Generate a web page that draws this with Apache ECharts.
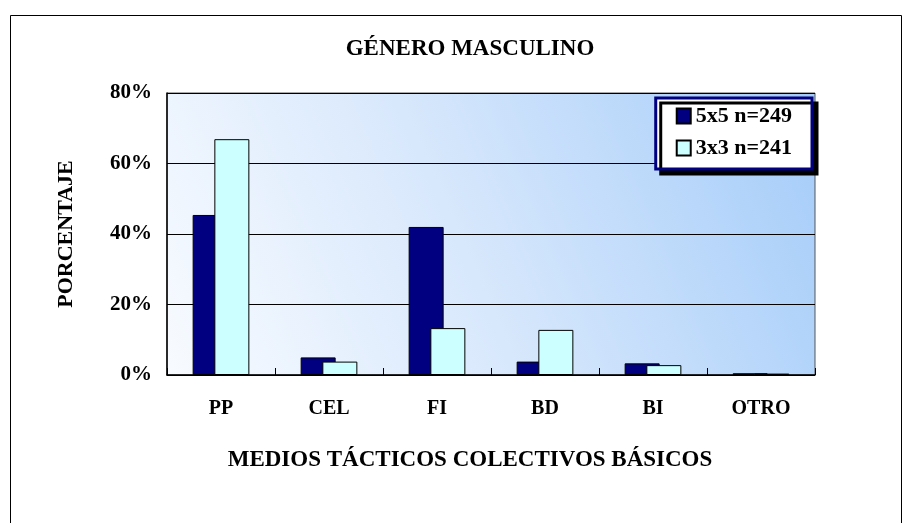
<!DOCTYPE html>
<html>
<head>
<meta charset="utf-8">
<script src="https://cdn.jsdelivr.net/npm/echarts@6/dist/echarts.min.js"></script>
<style>
    html, body { margin: 0; padding: 0; background: #fff; }
    #chart { width: 911px; height: 523px; }
</style>
</head>
<body>
<div id="chart"></div>
<script>
// datos
const categorias = ['PP', 'CEL', 'FI', 'BD', 'BI', 'OTRO'];
const serie5x5 = [45.4, 5.0, 42.0, 3.8, 3.3, 0.5];
const serie3x3 = [66.9, 3.8, 13.3, 12.8, 2.8, 0.4];
const nombre5x5 = '5x5 n=249';
const nombre3x3 = '3x3 n=241';
const ticksY = [0, 20, 40, 60, 80];

const fuente = 'Liberation Serif';

const chart = echarts.init(document.getElementById('chart'));
chart.setOption({
    animation: false,
    title: {
        text: 'GÉNERO MASCULINO',
        left: 465,
        textAlign: 'center',
        top: 33,
        textStyle: { fontFamily: fuente, fontWeight: 'bold', fontSize: 23, color: '#000' }
    },
    graphic: [
        {
            type: 'rect',
            shape: { x: 10.5, y: 15.5, width: 891, height: 520 },
            style: { fill: 'none', stroke: '#000', lineWidth: 1 },
            silent: true
        }
    ],
    legend: {
        orient: 'vertical',
        right: 99,
        top: 98,
        padding: [7, 20, 10, 20],
        itemGap: 10,
        itemWidth: 14,
        itemHeight: 15,
        backgroundColor: '#fff',
        borderColor: '#000080',
        borderWidth: 3,
        shadowColor: '#000',
        shadowBlur: 0,
        shadowOffsetX: 5,
        shadowOffsetY: 5,
        icon: 'rect',
        textStyle: { fontFamily: fuente, fontWeight: 'bold', fontSize: 22, color: '#000' },
        data: [nombre5x5, nombre3x3]
    },
    grid: {
        left: 167,
        right: 96,
        top: 93,
        bottom: 148,
        show: true,
        borderColor: '#555',
        borderWidth: 1,
        backgroundColor: {
            type: 'linear',
            x: 0, y: 1, x2: 1, y2: 0,
            colorStops: [
                { offset: 0, color: '#f8fbff' },
                { offset: 0.45, color: '#d8e8fc' },
                { offset: 1, color: '#a4ccf9' }
            ]
        }
    },
    xAxis: {
        type: 'category',
        data: categorias,
        name: 'MEDIOS TÁCTICOS COLECTIVOS BÁSICOS',
        nameLocation: 'middle',
        nameGap: 74,
        nameTextStyle: {
            fontFamily: fuente, fontWeight: 'bold', fontSize: 23, color: '#000',
            padding: [0, 42, 0, 0]
        },
        axisLine: { lineStyle: { color: '#000', width: 1.5 } },
        axisTick: { show: true, inside: true, length: 7, lineStyle: { color: '#000' } },
        axisLabel: { fontFamily: fuente, fontWeight: 'bold', fontSize: 20, color: '#000', margin: 24 }
    },
    yAxis: {
        type: 'value',
        min: ticksY[0],
        max: ticksY[ticksY.length - 1],
        interval: 20,
        name: 'PORCENTAJE',
        nameLocation: 'middle',
        nameGap: 90,
        nameTextStyle: { fontFamily: fuente, fontWeight: 'bold', fontSize: 22, color: '#000' },
        axisLine: { show: true, lineStyle: { color: '#000', width: 1.5 } },
        axisTick: { show: false },
        axisLabel: {
            fontFamily: fuente, fontWeight: 'bold', fontSize: 21, color: '#000', margin: 15,
            formatter: v => v + '%'
        },
        splitLine: { lineStyle: { color: '#000', width: 1 } }
    },
    series: [
        {
            name: nombre5x5,
            type: 'bar',
            data: serie5x5,
            barWidth: 35,
            barGap: '-38%',
            itemStyle: { color: '#000080', borderColor: '#000', borderWidth: 1 }
        },
        {
            name: nombre3x3,
            type: 'bar',
            data: serie3x3,
            barWidth: 35,
            itemStyle: { color: '#ccffff', borderColor: '#000', borderWidth: 1 }
        }
    ]
});

window.addEventListener('resize', () => chart.resize());
</script>
</body>
</html>
